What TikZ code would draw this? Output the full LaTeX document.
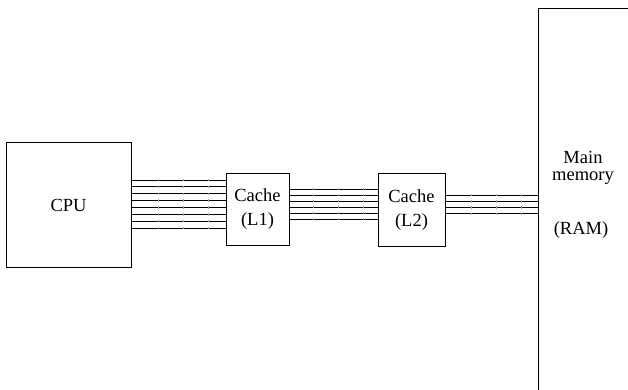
\documentclass[tikz,border=0pt]{standalone}
\usepackage{fontspec}
\setmainfont{Liberation Serif}[Scale=1.0]
\newfontfamily\schrift{Liberation Serif}
\begin{document}
\begin{tikzpicture}[
    x=1pt, y=-1pt,
    font=\schrift\fontsize{18.5}{24}\selectfont,
    kasten/.style={draw, line width=1pt, inner sep=0pt, align=center},
    leitung/.style={line width=1pt},
    stoss/.style={gray!70, line width=0.4pt}
  ]
  \useasboundingbox (0,0) rectangle (628,390);
  \node[kasten, minimum width=125pt, minimum height=124pt] (cpu) at (68.5,205) {CPU};
  \node[kasten, minimum width=63pt, minimum height=72pt] (l1) at (257.5,209) {Cache\\(L1)};
  \node[kasten, minimum width=67pt, minimum height=73pt] (l2) at (411.5,210) {Cache\\(L2)};
  % Hauptspeicher (rechts angeschnitten)
  \coordinate (speicher) at (538,9);
  \draw[line width=1pt] (speicher |- 0,390) -- (speicher) -- (628,9);
  \node[align=center, font=\schrift\fontsize{18.5}{17}\selectfont] (ram) at (583,168) {Main\\memory};
  \node (ramkurz) at (581,230) {(RAM)};
  % Busse
  \foreach \i [evaluate=\i as \y using 180+6.86*\i] in {0,...,7} {
    \draw[leitung] (cpu.east |- 0,\y) -- (l1.west |- 0,\y);
    \foreach \x in {158,183,208}
      \draw[stoss] (\x,\y-1.2) -- (\x,\y+1.2);
  }
  \foreach \i [evaluate=\i as \y using 189+6*\i] in {0,...,5} {
    \draw[leitung] (l1.east |- 0,\y) -- (l2.west |- 0,\y);
    \foreach \x in {313,338,363}
      \draw[stoss] (\x,\y-1.2) -- (\x,\y+1.2);
  }
  \foreach \i [evaluate=\i as \y using 195+6.33*\i] in {0,...,3} {
    \draw[leitung] (l2.east |- 0,\y) -- (speicher |- 0,\y);
    \foreach \x in {471,496,521}
      \draw[stoss] (\x,\y-1.2) -- (\x,\y+1.2);
  }
\end{tikzpicture}
\end{document}
